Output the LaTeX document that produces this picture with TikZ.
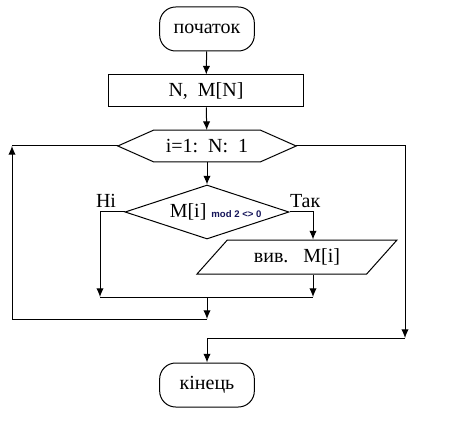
\documentclass[tikz,border=0pt]{standalone}
\usepackage{fontspec}
\setmainfont{Liberation Serif}
\newfontfamily\modfont{Liberation Sans}
\usepackage{tikz}
\usetikzlibrary{positioning, shapes.geometric, arrows.meta}

\definecolor{modblue}{rgb}{0.08,0.08,0.35}

\begin{document}
\begin{tikzpicture}[x=0.75pt, y=-0.75pt, line width=0.75pt,
        every node/.style={font=\fontsize{15}{17}\selectfont},
        terminal/.style={draw, rectangle, rounded corners=12pt, minimum width=71pt, minimum height=33pt},
        block/.style={draw, rectangle, minimum width=146pt, minimum height=24pt},
        cyclebox/.style={rectangle, minimum width=133pt, minimum height=23.2pt, inner sep=0pt},
        decision/.style={draw, diamond, aspect=3, minimum width=123pt, minimum height=40.5pt, inner sep=0pt},
        io/.style={draw, trapezium, trapezium left angle=40, trapezium right angle=140, trapezium stretches body, minimum width=150pt, minimum height=25.5pt},
        lbl/.style={inner sep=0pt},
        arr/.style={-{Latex[length=6.5pt, width=5.5pt]}}]
    \useasboundingbox (0,0) rectangle (457,424);

    \node (start) [terminal] at (207,29) {початок};
    \node (input) [block] at (206,91) {N,\ \ M[N]};
    \node (cycle) [cyclebox] at (207,146) {i=1:\ \ N:\ \ 1};
    \draw (cycle.west) -- ([xshift=27pt]cycle.north west) -- ([xshift=-27pt]cycle.north east)
        -- (cycle.east) -- ([xshift=-27pt]cycle.south east) -- ([xshift=27pt]cycle.south west) -- cycle;
    \node (cond) [decision] at (207,212) {\hspace*{13pt}M[i] {\modfont\bfseries\fontsize{7.2}{8}\selectfont\color{modblue} mod 2 <> 0}};
    \node (output) [io] at (297,257) {вив.\ \ \ M[i]};
    \node (stop) [terminal] at (207,385) {кінець};

    \node (no) [lbl, above left=3pt and 6pt of cond.west] {Ні};
    \node (yes) [lbl, above right=3pt and 0pt of cond.east] {Так};

    % points of the branches
    \coordinate (yesline) at (313,212);
    \coordinate (mergeL) at (100,297);
    \coordinate (mergeR) at (313,297);
    \coordinate (merge) at (207,297);
    \coordinate (back) at (207,319);
    \coordinate (loopL) at (12,146);
    \coordinate (exitR) at (405,338);

    \draw[arr] (start) -- (input);
    \draw[arr] (input) -- (cycle);
    \draw[arr] (cycle) -- (cond);
    \draw[arr] (cond.east) -| (yesline |- output.north);
    \draw[arr] (cond.west) -| (mergeL);
    \draw[arr] (yesline |- output.south) -- (mergeR);
    \draw (mergeL) -- (mergeR);
    \draw[arr] (merge) -- (back);
    \draw[arr] (back) -| (loopL);
    \draw (loopL) -- (cycle.west);
    \draw[arr] (cycle.east) -| (exitR);
    \draw[arr] (exitR) -| (stop.north);
\end{tikzpicture}
\end{document}
